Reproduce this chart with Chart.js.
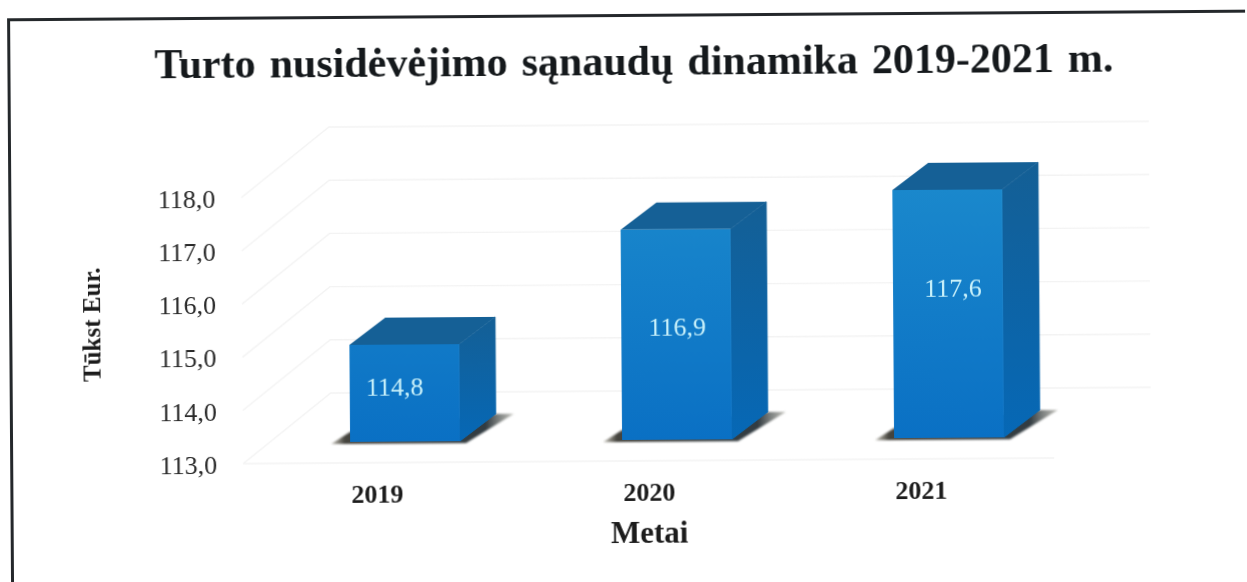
<!DOCTYPE html>
<html lang="lt">
<head>
<meta charset="utf-8">
<title>Turto nusidėvėjimo sąnaudų dinamika 2019-2021 m.</title>
<script src="https://cdn.jsdelivr.net/npm/chart.js@4"></script>
<style>
html,body{margin:0;padding:0;background:#fff;overflow:hidden;width:1247px;height:582px}
canvas{display:block;transform:rotate(-0.4deg);transform-origin:623.5px 291px;filter:blur(0.45px)}
</style>
</head>
<body>
<canvas id="c" width="1247" height="582"></canvas>
<script>
const categories = ["2019", "2020", "2021"];
const values = [114.8, 116.9, 117.6];
const tickValues = [113, 114, 115, 116, 117, 118];
const chartTitle = "Turto nusidėvėjimo sąnaudų dinamika 2019-2021 m.";
const xTitle = "Metai";
const yTitle = "Tūkst Eur.";

const fmt = v => v.toFixed(1).replace(".", ",");
const SERIF = "'Liberation Serif','Times New Roman',serif";
const DEPTH_X = 36, DEPTH_Y = 27;
const WALL_X = 88, WALL_Y = 70, FLOOR_LEFT = 26;
const LABEL_SHIFT = 28;
const valueLabelNudge = [[-10, 44], [1, 99], [5, 100]];

const cube3d = {
  id: "cube3d",
  beforeDraw(chart) {
    const { ctx, scales: { y }, chartArea: a } = chart;
    ctx.save();
    // scanned page frame
    ctx.strokeStyle = "#24282b";
    ctx.lineWidth = 3;
    ctx.beginPath();
    ctx.moveTo(10.5, 700);
    ctx.lineTo(10.5, 15.5);
    ctx.lineTo(1300, 15.5);
    ctx.stroke();
    // faint wall and floor lines
    ctx.strokeStyle = "#f3f3f3";
    ctx.lineWidth = 1.4;
    tickValues.forEach(v => {
      const py = y.getPixelForValue(v);
      const left = a.left - FLOOR_LEFT;
      ctx.beginPath();
      ctx.moveTo(left, py);
      ctx.lineTo(left + WALL_X, py - WALL_Y);
      ctx.lineTo(a.right + WALL_X - 22, py - WALL_Y);
      ctx.stroke();
    });
    const floor = y.getPixelForValue(tickValues[0]);
    ctx.beginPath();
    ctx.moveTo(a.left - FLOOR_LEFT, floor);
    ctx.lineTo(a.right - 31, floor);
    ctx.stroke();
    ctx.restore();
    ctx.wordSpacing = "3.5px";
  },
  beforeDatasetsDraw(chart) {
    const { ctx } = chart;
    ctx.wordSpacing = "0px";
    const meta = chart.getDatasetMeta(0);
    meta.data.forEach(bar => {
      const l = bar.x - bar.width / 2, r = bar.x + bar.width / 2;
      const t = bar.y, b = bar.base;
      // floor shadow
      const sh = ctx.createLinearGradient(l - 18, b, r + DEPTH_X + 17, b);
      sh.addColorStop(0, "rgba(110,105,90,0.5)");
      sh.addColorStop(0.07, "#45443e");
      sh.addColorStop(0.85, "#323c42");
      sh.addColorStop(1, "rgba(130,130,120,0.55)");
      ctx.save();
      ctx.filter = "blur(1.3px)";
      ctx.fillStyle = sh;
      ctx.beginPath();
      ctx.moveTo(l - 19, b + 2);
      ctx.lineTo(l, b - 10);
      ctx.lineTo(r + DEPTH_X, b - DEPTH_Y);
      ctx.lineTo(r + DEPTH_X + 18, b - DEPTH_Y);
      ctx.lineTo(r + 6, b + 2);
      ctx.closePath();
      ctx.fill();
      ctx.restore();
      // side face
      const side = ctx.createLinearGradient(0, t - DEPTH_Y, 0, b);
      side.addColorStop(0, "#145f95");
      side.addColorStop(1, "#0668b6");
      ctx.fillStyle = side;
      ctx.strokeStyle = side;
      ctx.lineWidth = 0.8;
      ctx.beginPath();
      ctx.moveTo(r, t);
      ctx.lineTo(r + DEPTH_X, t - DEPTH_Y);
      ctx.lineTo(r + DEPTH_X, b - DEPTH_Y);
      ctx.lineTo(r, b);
      ctx.closePath();
      ctx.fill();
      ctx.stroke();
      // top face
      ctx.fillStyle = "#156096";
      ctx.beginPath();
      ctx.moveTo(l, t);
      ctx.lineTo(l + DEPTH_X, t - DEPTH_Y);
      ctx.lineTo(r + DEPTH_X, t - DEPTH_Y);
      ctx.lineTo(r, t);
      ctx.closePath();
      ctx.fill();
    });
  },
  afterDatasetsDraw(chart) {
    const { ctx, scales: { x } } = chart;
    const meta = chart.getDatasetMeta(0);
    ctx.save();
    ctx.font = "26px " + SERIF;
    ctx.fillStyle = "#c9f1fa";
    ctx.textAlign = "center";
    ctx.textBaseline = "middle";
    meta.data.forEach((bar, i) => {
      ctx.fillText(fmt(values[i]), bar.x + valueLabelNudge[i][0], bar.y + valueLabelNudge[i][1]);
    });
    // axis titles
    ctx.fillStyle = "#1c1c1c";
    ctx.font = "bold 31px " + SERIF;
    ctx.fillText(xTitle, x.getPixelForValue(1) - LABEL_SHIFT, 535);
    ctx.translate(94, 321);
    ctx.rotate(-Math.PI / 2);
    ctx.font = "bold 25px " + SERIF;
    ctx.fillText(yTitle, 0, 0);
    ctx.restore();
  }
};

new Chart(document.getElementById("c"), {
  type: "bar",
  plugins: [cube3d],
  data: {
    labels: categories,
    datasets: [{
      data: values,
      yAxisID: "y2",
      base: 113,
      barPercentage: 0.404,
      categoryPercentage: 1,
      clip: false,
      borderWidth: 0,
      backgroundColor(c) {
        const g = c.chart.ctx.createLinearGradient(0, 190, 0, 440);
        g.addColorStop(0, "#1a88cc");
        g.addColorStop(1, "#0a70c4");
        return g;
      }
    }]
  },
  options: {
    responsive: false,
    animation: false,
    layout: { padding: { left: 24, right: 0, top: 0, bottom: 0 } },
    plugins: {
      legend: { display: false },
      tooltip: { enabled: false },
      title: {
        display: true,
        text: chartTitle,
        color: "#15191c",
        font: { family: SERIF, size: 42, weight: "bold", lineHeight: 1.2 },
        padding: { top: 39, bottom: 35.6 }
      }
    },
    scales: {
      x: {
        grid: { display: false },
        border: { display: false },
        afterFit(s) { s.height = 121; },
        ticks: {
          padding: 10,
          labelOffset: -LABEL_SHIFT,
          color: "#1c1c1c",
          maxRotation: 0,
          font: { family: SERIF, size: 26, weight: "bold" }
        }
      },
      y: {
        min: 113,
        max: 119.316,
        grid: { display: false },
        border: { display: false },
        afterBuildTicks(s) { s.ticks = tickValues.map(v => ({ value: v })); },
        afterFit(s) { s.width = 244; },
        ticks: {
          padding: 44,
          labelOffset: 3,
          color: "#2a2a2a",
          callback: v => fmt(v),
          font: { family: SERIF, size: 26 }
        }
      },
      y2: {
        position: "right",
        min: 112.61,
        max: 118.844,
        grid: { display: false },
        border: { display: false },
        ticks: { display: false },
        afterFit(s) { s.width = 163; }
      }
    }
  }
});
</script>
</body>
</html>
